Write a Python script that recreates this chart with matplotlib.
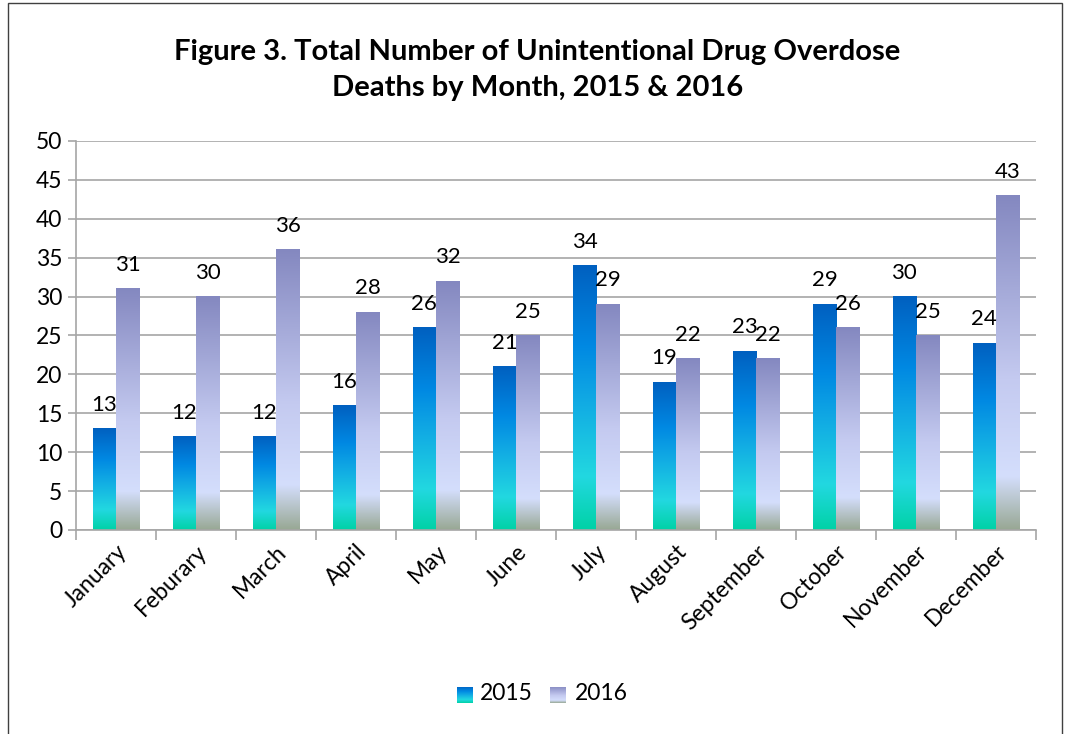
import matplotlib
matplotlib.use("Agg")
import matplotlib.pyplot as plt
import numpy as np
from matplotlib.colors import LinearSegmentedColormap
from matplotlib.patches import Rectangle

months = ["January", "Feburary", "March", "April", "May", "June", "July",
          "August", "September", "October", "November", "December"]
deaths_2015 = [13, 12, 12, 16, 26, 21, 34, 19, 23, 29, 30, 24]
deaths_2016 = [31, 30, 36, 28, 32, 25, 29, 22, 22, 26, 25, 43]
series_names = ["2015", "2016"]

plt.rcParams['font.family'] = ['Lato', 'DejaVu Sans']

# gradients, bottom -> top
cmap_2015 = LinearSegmentedColormap.from_list("g2015", [
    (0.0, "#00d2a6"), (0.2, "#22d8e0"), (0.5, "#10a8e4"),
    (0.7, "#0088e2"), (1.0, "#0060c0")])
cmap_2016 = LinearSegmentedColormap.from_list("g2016", [
    (0.0, "#98a894"), (0.16, "#d4defc"), (0.45, "#c4caf0"),
    (1.0, "#8488c0")])

grad = np.linspace(0, 1, 256).reshape(-1, 1)

fig = plt.figure(figsize=(10.68, 7.34), dpi=100)
ax = fig.add_axes([0.0712, 0.278, 0.8988, 0.530])

x = np.arange(len(months))
w = 0.29


def grad_bars(xs, vals, cmap):
    bars = ax.bar(xs, vals, w, color="none", edgecolor="none", zorder=2)
    for b in bars:
        x0, h = b.get_x(), b.get_height()
        ax.imshow(grad, cmap=cmap, origin="lower", aspect="auto",
                  extent=[x0, x0 + w, 0, h], zorder=2, interpolation="bilinear")
    for xx, v in zip(xs, vals):
        ax.annotate(str(v), (xx, v), xytext=(0, 10), textcoords="offset points",
                    ha="center", va="bottom", fontsize=16, color="black")


grad_bars(x - w / 2, deaths_2015, cmap_2015)
grad_bars(x + w / 2, deaths_2016, cmap_2016)

ax.set_xlim(-0.5, len(months) - 0.5)
ax.set_ylim(0, 50)
ax.set_yticks(range(0, 51, 5))
ax.yaxis.grid(True, color="#a6a6a6", linewidth=1.2, zorder=0)
ax.set_axisbelow(True)
for s in ["top", "right"]:
    ax.spines[s].set_visible(False)
for s in ["left", "bottom"]:
    ax.spines[s].set_color("#a6a6a6")
    ax.spines[s].set_linewidth(1.2)

ax.set_xticks(x)
ax.set_xticklabels(months, rotation=45, ha="right", rotation_mode="anchor",
                   fontsize=16.5)
ax.tick_params(axis="x", length=0, pad=8)
ax.set_xticks(np.arange(-0.5, len(months), 1), minor=True)
ax.tick_params(axis="x", which="minor", length=7, color="#a6a6a6", width=1.2)
ax.tick_params(axis="y", labelsize=16.5, length=6, color="#a6a6a6", width=1.2,
               pad=4)

fig.text(0.503, 1 - 70 / 734, "Figure 3. Total Number of Unintentional Drug Overdose\nDeaths by Month, 2015 & 2016",
         ha="center", va="center", fontsize=21, fontweight="bold",
         linespacing=1.45)

# legend with gradient swatches
leg_items = [(457, 480, cmap_2015), (550, 575, cmap_2016)]
for (sx, tx, cm), name in zip(leg_items, series_names):
    lax = fig.add_axes([sx / 1068, 1 - 703 / 734, 16 / 1068, 16 / 734])
    lax.imshow(grad, cmap=cm, origin="lower", aspect="auto")
    lax.axis("off")
    fig.text(tx / 1068, 1 - 694 / 734, name, ha="left", va="center",
             fontsize=16.5)

fig.patches.append(Rectangle((8 / 1068, -0.01), 1054 / 1068, 1 - 3 / 734 + 0.01,
                             transform=fig.transFigure, fill=False,
                             edgecolor="#404040", linewidth=1))

fig.savefig("out.png", dpi=100)
